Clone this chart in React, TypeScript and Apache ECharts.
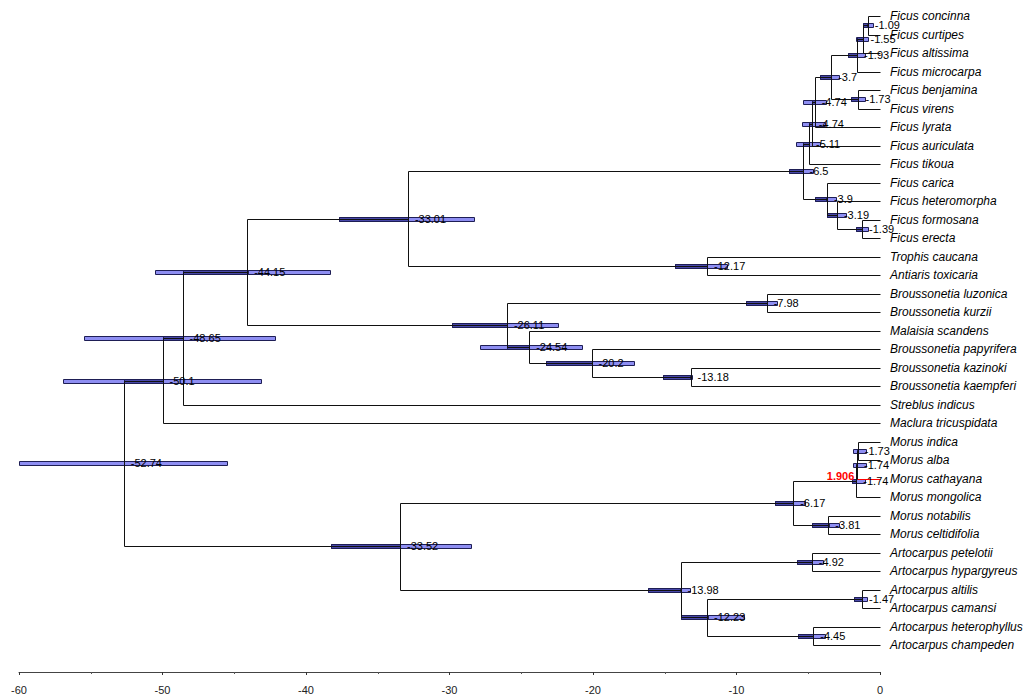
import React, { useEffect, useRef } from "react";
import * as echarts from "echarts";

// Tip taxa, top to bottom
const leaves: string[] = [
  "Ficus concinna", "Ficus curtipes", "Ficus altissima", "Ficus microcarpa",
  "Ficus benjamina", "Ficus virens", "Ficus lyrata", "Ficus auriculata",
  "Ficus tikoua", "Ficus carica", "Ficus heteromorpha", "Ficus formosana",
  "Ficus erecta", "Trophis caucana", "Antiaris toxicaria", "Broussonetia luzonica",
  "Broussonetia kurzii", "Malaisia scandens", "Broussonetia papyrifera",
  "Broussonetia kazinoki", "Broussonetia kaempferi", "Streblus indicus",
  "Maclura tricuspidata", "Morus indica", "Morus alba", "Morus cathayana",
  "Morus mongolica", "Morus notabilis", "Morus celtidifolia", "Artocarpus petelotii",
  "Artocarpus hypargyreus", "Artocarpus altilis", "Artocarpus camansi",
  "Artocarpus heterophyllus", "Artocarpus champeden",
];

// Internal nodes (children listed before parents)
const nodeIds: string[] = [
  "n1", "n2", "n3", "n4", "n5", "n6", "n7", "n8", "n9", "n10", "n11", "n12",
  "n13", "n14", "n15", "n16", "n17", "n18", "n19", "n20", "n21", "n22",
  "n23", "n24", "n25", "n26", "n27", "n28", "n29", "n30", "n31", "n32", "n33", "n34",
];
const nodeLabels: string[] = [
  "-1.09", "-1.55", "-1.93", "-1.73", "-3.7", "-4.74", "-4.74", "-5.11", "-1.39", "-3.19", "-3.9", "-6.5",
  "-12.17", "-33.01", "-7.98", "-13.18", "-20.2", "-24.54", "-26.11", "-44.15", "-48.65", "-50.1",
  "-1.73", "-1.74", "-1.74", "-3.81", "-6.17", "-4.92", "-1.47", "-4.45", "-12.23", "-13.98", "-33.52", "-52.74",
];
const nodeAges: number[] = [
  -0.85, -1.15, -1.6, -1.5, -3.4, -4.55, -4.75, -4.95, -1.25, -3.0, -3.7, -5.4,
  -12.05, -32.9, -7.9, -13.2, -20.1, -24.45, -26.0, -44.1, -48.6, -50.0,
  -1.55, -1.6, -1.65, -3.6, -6.05, -4.75, -1.25, -4.65, -12.05, -13.9, -33.45, -52.7,
];
const hpdLow: number[] = [
  -1.18, -1.67, -2.23, -2.0, -4.2, -5.4, -5.45, -5.85, -1.67, -3.7, -4.5, -6.35,
  -14.3, -37.7, -9.35, -15.1, -23.3, -27.9, -29.8, -50.5, -55.5, -56.9,
  -1.9, -1.9, -1.95, -4.75, -7.3, -5.8, -1.8, -5.7, -13.9, -16.15, -38.25, -60,
];
const hpdHigh: number[] = [
  -0.49, -0.84, -1.05, -1.05, -2.9, -3.8, -3.85, -4.2, -0.84, -2.35, -3.05, -4.65,
  -10.65, -28.3, -7.2, -13.1, -17.2, -20.8, -22.4, -38.3, -42.2, -43.1,
  -1.0, -1.0, -1.05, -2.85, -5.2, -4.0, -0.9, -3.8, -9.5, -13.2, -28.5, -45.5,
];
const childA: string[] = [
  "L0", "n1", "n2", "L4", "n3", "n5", "n6", "n7", "L11", "L10", "L9", "n8",
  "L13", "n12", "L15", "L19", "L18", "L17", "n15", "n14", "n20", "n21",
  "L23", "n23", "n24", "L27", "n25", "L29", "L31", "L33", "n29", "n28", "n27", "n22",
];
const childB: string[] = [
  "L1", "L2", "L3", "L5", "n4", "L6", "L7", "L8", "L12", "n9", "n10", "n11",
  "L14", "n13", "L16", "L20", "n16", "n17", "n18", "n19", "L21", "L22",
  "L24", "L25", "L26", "L28", "n26", "L30", "L32", "L34", "n30", "n31", "n32", "n33",
];

// Highlighted branch and its annotation
const highlightLeaf = "Morus cathayana";
const highlightNode = "n25";
const highlightText = "1.906";

const xTicks = { min: -60, max: 0, interval: 10 };

const LIGHT = "#8e8ef2";
const DARK = "#4848aa";
const EDGE = "#1e1e55";
const LINE = "#111111";

function renderTree(params: any, api: any) {
  const pos: Record<string, { x: number; y: number }> = {};
  leaves.forEach((_, i) => {
    const p = api.coord([0, i]);
    pos["L" + i] = { x: p[0], y: p[1] };
  });
  const parent: Record<string, string> = {};
  nodeIds.forEach((id, k) => {
    const a = pos[childA[k]];
    const b = pos[childB[k]];
    const x = api.coord([nodeAges[k], 0])[0];
    pos[id] = { x, y: (a.y + b.y) / 2 };
    parent[childA[k]] = id;
    parent[childB[k]] = id;
  });
  const crisp = (v: number) => Math.round(v) + 0.5;
  const bars: any[] = [];
  const lines: any[] = [];
  const texts: any[] = [];
  const redLeafKey = "L" + leaves.indexOf(highlightLeaf);

  nodeIds.forEach((id, k) => {
    const p = pos[id];
    const lo = api.coord([hpdLow[k], 0])[0];
    const hi = api.coord([hpdHigh[k], 0])[0];
    const y0 = Math.round(p.y) - 2;
    bars.push({
      type: "rect",
      shape: { x: Math.round(lo) + 0.5, y: y0 + 0.5, width: Math.round(hi - lo), height: 4 },
      style: { fill: LIGHT, stroke: EDGE, lineWidth: 1 },
    });
    const par = parent[id];
    if (par) {
      const px = pos[par].x;
      const start = Math.max(lo, px);
      if (start < p.x) {
        bars.push({
          type: "rect",
          shape: { x: Math.round(start) + 0.5, y: y0 + 0.5, width: Math.max(1, Math.round(p.x - start)), height: 4 },
          style: { fill: DARK, stroke: EDGE, lineWidth: 1 },
        });
      }
    }
    const a = pos[childA[k]];
    const b = pos[childB[k]];
    lines.push({
      type: "line",
      shape: { x1: crisp(p.x), y1: crisp(a.y), x2: crisp(p.x), y2: crisp(b.y) },
      style: { stroke: LINE, lineWidth: 1 },
    });
    [childA[k], childB[k]].forEach((c) => {
      const cp = pos[c];
      lines.push({
        type: "line",
        shape: { x1: crisp(p.x), y1: crisp(cp.y), x2: crisp(cp.x), y2: crisp(cp.y) },
        style: { stroke: c === redLeafKey ? "#ff0000" : LINE, lineWidth: 1 },
      });
    });
    texts.push({
      type: "text",
      x: p.x + 7,
      y: p.y,
      style: {
        text: nodeLabels[k],
        fill: "#000",
        font: "11px 'Liberation Sans', Arial, sans-serif",
        verticalAlign: "middle",
        align: "left",
      },
    });
    if (id === highlightNode) {
      texts.push({
        type: "text",
        x: p.x - 2,
        y: p.y - 5,
        style: {
          text: highlightText,
          fill: "#ff0000",
          font: "bold 11px 'Liberation Sans', Arial, sans-serif",
          verticalAlign: "middle",
          align: "right",
        },
      });
    }
  });

  leaves.forEach((name, i) => {
    const p = pos["L" + i];
    texts.push({
      type: "text",
      x: p.x + 10,
      y: p.y,
      style: {
        text: name,
        fill: "#000",
        font: "italic 12px 'Liberation Sans', Arial, sans-serif",
        verticalAlign: "middle",
        align: "left",
      },
    });
  });

  return { type: "group", children: [...bars, ...lines, ...texts] };
}

export default function App() {
  const ref = useRef<HTMLDivElement>(null);
  useEffect(() => {
    if (!ref.current) return;
    const chart = echarts.init(ref.current, undefined, { renderer: "svg" });
    chart.setOption({
      animation: false,
      backgroundColor: "#ffffff",
      grid: { left: 19, right: 151, top: 16, bottom: 53 },
      xAxis: {
        type: "value",
        min: xTicks.min,
        max: xTicks.max,
        interval: xTicks.interval,
        position: "bottom",
        offset: 27,
        axisLine: { show: true, onZero: false, lineStyle: { color: "#444", width: 1 } },
        axisTick: { show: true, length: 3, lineStyle: { color: "#333" } },
        minorTick: { show: true, splitNumber: 2, length: 2, lineStyle: { color: "#555" } },
        splitLine: { show: false },
        axisLabel: { fontSize: 11, color: "#222", fontFamily: "'Liberation Sans', Arial, sans-serif", margin: 12 },
      },
      yAxis: {
        type: "value",
        min: 0,
        max: leaves.length - 1,
        inverse: true,
        show: false,
      },
      series: [
        {
          type: "custom",
          coordinateSystem: "cartesian2d",
          clip: false,
          renderItem: renderTree,
          data: [[0, 0]],
          silent: true,
        },
      ],
    });
    return () => chart.dispose();
  }, []);
  return (
    <div
      ref={ref}
      style={{ position: "fixed", left: 0, top: 0, width: 1031, height: 698, background: "#fff" }}
    />
  );
}
